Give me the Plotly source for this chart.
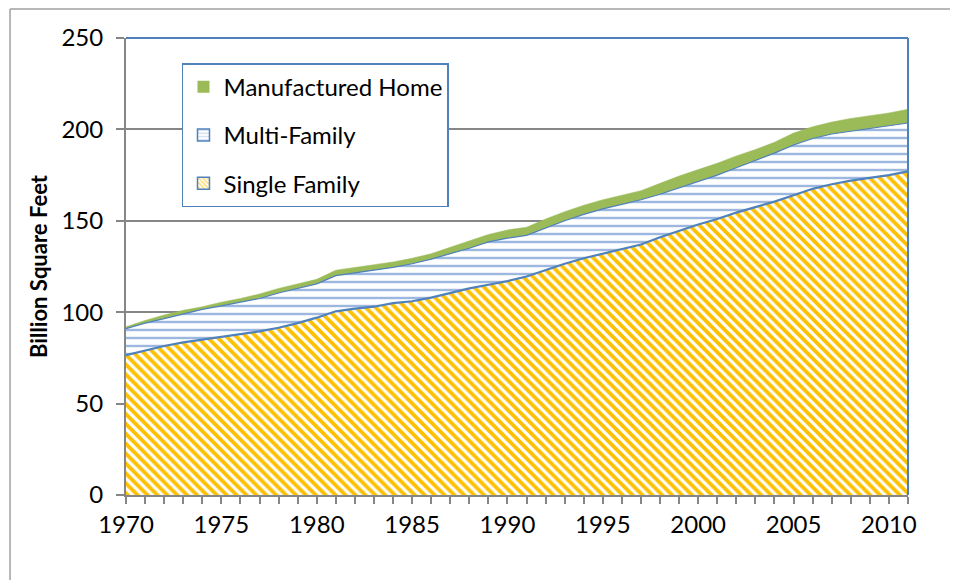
import plotly.graph_objects as go

years = list(range(1970, 2012))

single_family = [76.5, 79, 81.5, 83.5, 85, 86.5, 88, 89.5, 91.5, 94,
                 97, 100.5, 102, 103, 105, 106, 108, 110.5, 113, 115,
                 117, 119.5, 123, 126.5, 129.5, 132, 134.5, 137, 141, 144.5,
                 148, 151, 154.5, 157.5, 160.5, 164, 167.5, 170, 172, 173.5,
                 175, 177]

multi_family = [14.5, 15, 15, 15.5, 16.5, 17, 17.5, 18, 19, 19,
                18.5, 19.5, 19.5, 20, 19.5, 20.5, 21, 21.5, 22, 23.5,
                23.5, 22.5, 23, 23.5, 24, 24.5, 24.5, 24.5, 23.5, 23.5,
                23.5, 24, 24.5, 25.5, 26.5, 27.5, 27.5, 27.5, 27, 27,
                27, 26.5]

manufactured = [1, 1.5, 2, 2, 1.5, 2, 2, 2.5, 2.5, 2.5,
                2.5, 3, 3, 3, 3, 3, 3, 3.5, 4, 4,
                4.5, 4.5, 5, 5, 5, 5, 5, 5, 6, 6.5,
                6.5, 6.5, 6.5, 6, 6, 6.5, 6.5, 6.5, 7, 7,
                7, 7.5]

series_names = ["Single Family", "Multi-Family", "Manufactured Home"]
x_tick_vals = [1970, 1975, 1980, 1985, 1990, 1995, 2000, 2005, 2010]
y_tick_vals = [0, 50, 100, 150, 200, 250]

FONT = "Lato"
BLUE = "#4F81BD"
GOLD = "#FFC000"
GREEN = "#9BBB59"
WAVE = "#9DB8E0"
axis_gray = "#868686"

single_pattern = dict(shape="\\", fgcolor=GOLD, bgcolor="white",
                      size=7, solidity=0.55, fillmode="replace")
multi_pattern = dict(shape="-", fgcolor=WAVE, bgcolor="white",
                     size=8, solidity=0.3, fillmode="replace")

fig = go.Figure()

# stacked areas (legend hidden; legend drawn by square swatches below)
fig.add_trace(go.Scatter(
    x=years, y=single_family, name=series_names[0], mode="lines",
    stackgroup="one", showlegend=False,
    line=dict(color=BLUE, width=2.2),
    fillcolor="white", fillpattern=single_pattern,
))
fig.add_trace(go.Scatter(
    x=years, y=multi_family, name=series_names[1], mode="lines",
    stackgroup="one", showlegend=False,
    line=dict(color=BLUE, width=1.2),
    fillcolor="white", fillpattern=multi_pattern,
))
fig.add_trace(go.Scatter(
    x=years, y=manufactured, name=series_names[2], mode="lines",
    stackgroup="one", showlegend=False,
    line=dict(color=GREEN, width=0.5),
    fillcolor=GREEN,
))

# legend swatches (square symbols)
fig.add_trace(go.Bar(
    x=[None], y=[None], name=series_names[2], legendrank=1, legendgroup="c",
    marker=dict(color=GREEN, line=dict(width=0)),
))
fig.add_trace(go.Bar(
    x=[None], y=[None], name=series_names[1], legendrank=2, legendgroup="b",
    marker=dict(color="white", line=dict(color=BLUE, width=1.5),
                pattern=dict(shape="-", fgcolor=WAVE, bgcolor="white",
                             size=4, solidity=0.4)),
))
fig.add_trace(go.Bar(
    x=[None], y=[None], name=series_names[0], legendrank=3, legendgroup="a",
    marker=dict(color="white", line=dict(color=BLUE, width=1.5),
                pattern=dict(shape="\\", fgcolor=GOLD, bgcolor="white",
                             size=4, solidity=0.55)),
))

fig.update_layout(
    width=958, height=580,
    margin=dict(l=118, r=58, t=30, b=93, autoexpand=False),
    paper_bgcolor="white", plot_bgcolor="white",
    font=dict(family=FONT, size=24, color="black"),
    showlegend=True,
    legend=dict(
        x=0.0716, y=0.945, xanchor="left", yanchor="top",
        bgcolor="white", bordercolor=BLUE, borderwidth=1.5,
        traceorder="grouped", tracegroupgap=14,
        font=dict(family=FONT, size=24, color="black"),
        itemwidth=30,
    ),
    xaxis=dict(
        range=[1970, 2011], tickmode="array", tickvals=x_tick_vals,
        ticks="outside", ticklen=7, tickwidth=2, tickcolor=axis_gray,
        showline=True, linecolor=axis_gray, linewidth=2,
        showgrid=False, zeroline=False, automargin=False,
        minor=dict(dtick=1, tick0=1970, ticks="outside", ticklen=7,
                   tickwidth=2, tickcolor=axis_gray, showgrid=False),
        tickfont=dict(family=FONT, size=24, color="black"),
    ),
    yaxis=dict(
        range=[0, 250], tickmode="array", tickvals=y_tick_vals,
        ticks="outside", ticklen=8, tickwidth=2, tickcolor=axis_gray,
        ticklabelstandoff=8,
        showline=True, linecolor=axis_gray, linewidth=2,
        showgrid=True, gridcolor=axis_gray, gridwidth=1.5, zeroline=False,
        automargin=False,
        tickfont=dict(family=FONT, size=24, color="black"),
        title=dict(text="<b>Billion Square Feet</b>", standoff=8,
                   font=dict(family=FONT, size=22, color="black")),
    ),
    shapes=[
        dict(type="line", xref="paper", yref="paper", x0=0, x1=1, y0=1, y1=1,
             line=dict(color=BLUE, width=2)),
        dict(type="line", xref="paper", yref="paper", x0=1, x1=1, y0=0, y1=1,
             line=dict(color=BLUE, width=2)),
        dict(type="line", xref="paper", yref="paper", x0=-0.1483, x1=1.2,
             y0=1.0635, y1=1.0635, line=dict(color="#A0A0A0", width=1.5)),
        dict(type="line", xref="paper", yref="paper", x0=-0.1483, x1=-0.1483,
             y0=-0.25, y1=1.0635, line=dict(color="#A0A0A0", width=1.5)),
    ],
)

fig.write_html("out.html")
